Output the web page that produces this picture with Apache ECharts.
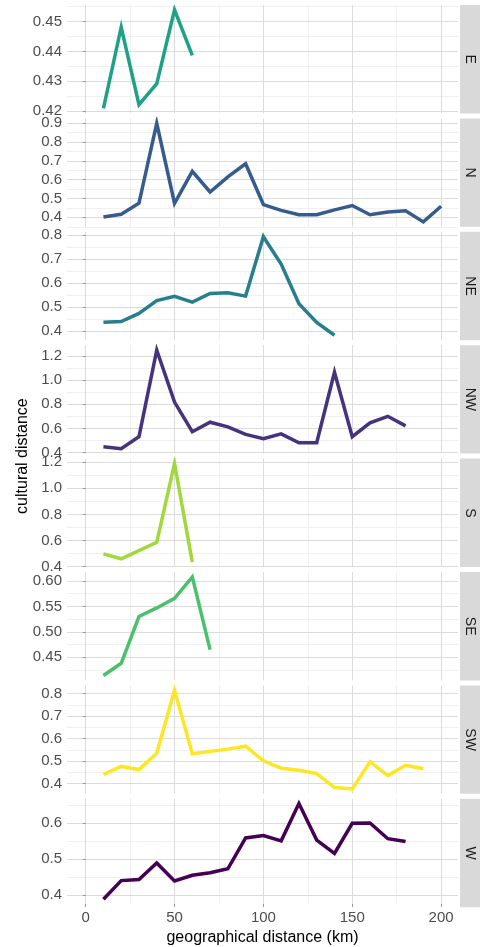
<!DOCTYPE html>
<html>
<head>
<meta charset="utf-8">
<script src="https://cdn.jsdelivr.net/npm/echarts@6/dist/echarts.min.js"></script>
<style>
  html, body { margin: 0; padding: 0; background: #fff; }
  #chart { width: 480px; height: 947px; }
</style>
</head>
<body>
<div id="chart"></div>
<script>
// geographical distance (km), shared by every facet
const distances = [10, 20, 30, 40, 50, 60, 70, 80, 90, 100, 110, 120, 130, 140, 150, 160, 170, 180, 190, 200];

// facet order, top to bottom
const directions = ['E', 'N', 'NE', 'NW', 'S', 'SE', 'SW', 'W'];

// cultural distance per direction (null = no value at that distance)
const valuesE  = [0.4209, 0.4481, 0.4222, 0.4292, 0.4539, 0.4387];
const valuesN  = [0.402, 0.416, 0.475, 0.900, 0.475, 0.645, 0.535, 0.615, 0.685, 0.468, 0.437, 0.414, 0.414, 0.440, 0.463, 0.414, 0.428, 0.435, 0.376, 0.459];
const valuesNE = [0.437, 0.440, 0.474, 0.527, 0.545, 0.521, 0.557, 0.560, 0.546, 0.793, 0.679, 0.514, 0.436, 0.383];
const valuesNW = [0.449, 0.433, 0.532, 1.249, 0.819, 0.573, 0.652, 0.614, 0.551, 0.515, 0.556, 0.482, 0.482, 1.066, 0.532, 0.647, 0.701, 0.622];
const valuesS  = [0.498, 0.460, null, 0.586, 1.190, 0.435];
const valuesSE = [0.414, 0.438, 0.530, 0.547, 0.566, 0.608, 0.465];
const valuesSW = [0.440, 0.476, 0.462, 0.535, 0.815, 0.532, 0.543, 0.553, 0.566, 0.501, 0.468, 0.459, 0.444, 0.382, 0.376, 0.497, 0.435, 0.481, 0.466];
const valuesW  = [0.388, 0.440, 0.443, 0.489, 0.439, 0.455, 0.462, 0.473, 0.559, 0.566, 0.551, 0.655, 0.553, 0.516, 0.600, 0.601, 0.557, 0.549];

// y tick labels per facet
const yTicksE  = [0.42, 0.43, 0.44, 0.45];
const yTicksN  = [0.4, 0.5, 0.6, 0.7, 0.8, 0.9];
const yTicksNE = [0.4, 0.5, 0.6, 0.7, 0.8];
const yTicksNW = [0.4, 0.6, 0.8, 1.0, 1.2];
const yTicksS  = [0.4, 0.6, 0.8, 1.0, 1.2];
const yTicksSE = [0.45, 0.50, 0.55, 0.60];
const yTicksSW = [0.4, 0.5, 0.6, 0.7, 0.8];
const yTicksW  = [0.4, 0.5, 0.6];

// x tick labels
const xTicks = [0, 50, 100, 150, 200];

const allValues = [valuesE, valuesN, valuesNE, valuesNW, valuesS, valuesSE, valuesSW, valuesW];
const allYTicks = [yTicksE, yTicksN, yTicksNE, yTicksNW, yTicksS, yTicksSE, yTicksSW, yTicksW];
const colors = ['#1FA187', '#365C8D', '#277F8E', '#46337E', '#9FDA3A', '#4AC16D', '#FDE725', '#440154'];
const decimals = [2, 1, 1, 1, 1, 2, 1, 1];

const FONT = 'Liberation Sans, Arial, sans-serif';
const PANEL_TOP = 5, PANEL_H = 108.4, PANEL_STEP = 113.4;
const LEFT = 67, RIGHT = 22;
const X_MIN = -10.5, X_MAX = 209.5;

function minorsOf(ticks, lo, hi) {
  const step = ticks[1] - ticks[0];
  const out = ticks.map(v => v - step / 2).concat([ticks[ticks.length - 1] + step / 2]);
  return out.filter(v => v >= lo && v <= hi);
}

const grid = [], xAxis = [], yAxis = [], series = [], graphic = [];

directions.forEach((dir, i) => {
  const vals = allValues[i];
  const nums = vals.filter(v => v !== null);
  const lo0 = Math.min(...nums), hi0 = Math.max(...nums);
  const pad = (hi0 - lo0) * 0.05;
  const lo = lo0 - pad, hi = hi0 + pad;
  const top = PANEL_TOP + i * PANEL_STEP;
  const last = i === directions.length - 1;
  const yt = allYTicks[i];

  grid.push({ left: LEFT, right: RIGHT, top: top, height: PANEL_H, containLabel: false });

  // minor x grid
  xAxis.push({
    type: 'value', gridIndex: i, position: 'bottom', min: X_MIN, max: X_MAX, z: 0,
    axisLine: { show: false }, axisLabel: { show: false },
    axisTick: { show: false, customValues: [25, 75, 125, 175] },
    splitLine: { show: true, lineStyle: { color: '#F0F0F0', width: 1 } }
  });
  // major x grid
  xAxis.push({
    type: 'value', gridIndex: i, position: 'bottom', min: X_MIN, max: X_MAX, z: 1,
    axisLine: { show: false },
    axisTick: { show: last, customValues: xTicks, length: 3, lineStyle: { color: '#999' } },
    axisLabel: { show: last, customValues: xTicks, color: '#4D4D4D', fontSize: 15, fontFamily: FONT, margin: 6 },
    splitLine: { show: true, lineStyle: { color: '#DCDCDC', width: 1 } },
    name: last ? 'geographical distance (km)' : '',
    nameLocation: 'middle', nameGap: 26,
    nameTextStyle: { color: '#000', fontSize: 16, fontFamily: FONT }
  });
  // minor y grid
  yAxis.push({
    type: 'value', gridIndex: i, position: 'left', min: lo, max: hi, z: 0,
    axisLine: { show: false }, axisLabel: { show: false },
    axisTick: { show: false, customValues: minorsOf(yt, lo, hi) },
    splitLine: { show: true, lineStyle: { color: '#F0F0F0', width: 1 } }
  });
  // major y grid
  yAxis.push({
    type: 'value', gridIndex: i, position: 'left', min: lo, max: hi, z: 1,
    axisLine: { show: false },
    axisTick: { show: true, customValues: yt, length: 3, lineStyle: { color: '#999' } },
    axisLabel: {
      customValues: yt, color: '#4D4D4D', fontSize: 15, fontFamily: FONT, margin: 5,
      formatter: v => v.toFixed(decimals[i])
    },
    splitLine: { show: true, lineStyle: { color: '#DCDCDC', width: 1 } }
  });

  series.push({
    name: dir, type: 'line',
    xAxisIndex: 2 * i + 1, yAxisIndex: 2 * i + 1,
    data: vals.map((v, k) => [distances[k], v]),
    connectNulls: true, showSymbol: false, symbol: 'none',
    lineStyle: { color: colors[i], width: 3.5, join: 'miter' },
    z: 3
  });

  // facet strip on the right
  graphic.push({
    type: 'rect', left: 480 - RIGHT + 2, top: top,
    shape: { width: RIGHT - 2, height: PANEL_H },
    style: { fill: '#D9D9D9' }
  });
  graphic.push({
    type: 'text', x: 480 - (RIGHT - 2) / 2, y: top + PANEL_H / 2, rotation: -Math.PI / 2,
    style: { text: dir, fill: '#1A1A1A', fontSize: 14, fontFamily: FONT, align: 'center', verticalAlign: 'middle' }
  });
});

// shared y title
graphic.push({
  type: 'text', x: 23, y: PANEL_TOP + (7 * PANEL_STEP + PANEL_H) / 2, rotation: Math.PI / 2,
  style: { text: 'cultural distance', fill: '#000', fontSize: 16, fontFamily: FONT, align: 'center', verticalAlign: 'middle' }
});

const chart = echarts.init(document.getElementById('chart'), null, { renderer: 'canvas' });
chart.setOption({
  animation: false,
  backgroundColor: '#fff',
  grid: grid,
  xAxis: xAxis,
  yAxis: yAxis,
  series: series,
  graphic: graphic
});
</script>
</body>
</html>
